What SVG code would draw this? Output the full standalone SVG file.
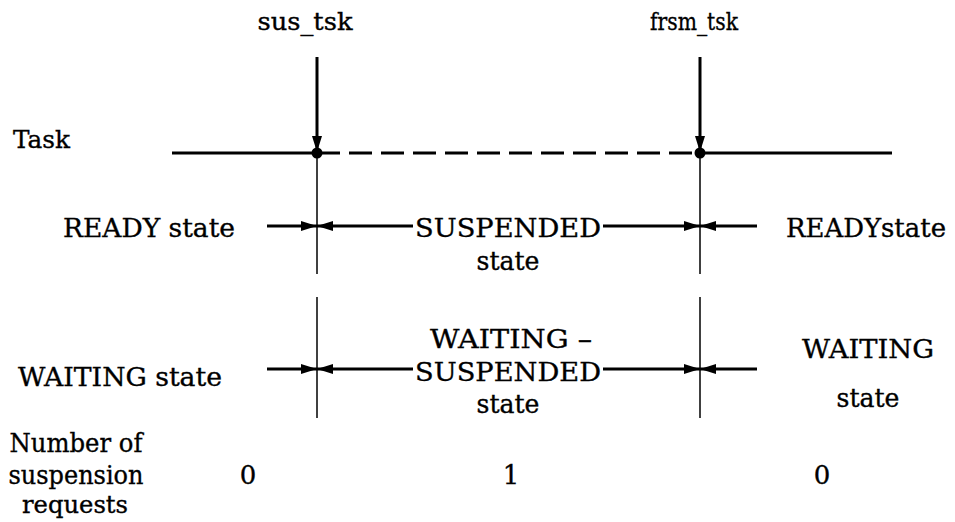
<svg xmlns="http://www.w3.org/2000/svg" width="955" height="522" viewBox="0 0 955 522">
<style>
text{font-family:"DejaVu Serif","Liberation Serif",serif;font-size:26px;fill:#000;stroke:#000;stroke-width:0.35}
.m{text-anchor:middle}
.s{font-size:24px}
.thick{stroke:#000;stroke-width:3;fill:none}
.thin{stroke:#000;stroke-width:1.5;fill:none}
</style>
<defs>
<marker id="ah" viewBox="0 0 16 10" refX="16" refY="5" markerWidth="16" markerHeight="10" markerUnits="userSpaceOnUse" orient="auto">
<path d="M0,0 L16,5 L0,10 Z" fill="#000"/>
</marker>
</defs>
<rect width="955" height="522" fill="#fff"/>
<g id="labels">
<text class="m s" x="305" y="30" textLength="95" lengthAdjust="spacingAndGlyphs">sus_tsk</text>
<text class="m s" x="694" y="30" textLength="88" lengthAdjust="spacingAndGlyphs">frsm_tsk</text>
<text class="s" x="13" y="148" textLength="57" lengthAdjust="spacingAndGlyphs">Task</text>
<text class="m" x="149" y="237" textLength="172" lengthAdjust="spacingAndGlyphs">READY state</text>
<text class="m" x="508" y="237" textLength="186" lengthAdjust="spacingAndGlyphs">SUSPENDED</text>
<text class="m" x="508" y="270" textLength="63" lengthAdjust="spacingAndGlyphs">state</text>
<text class="m" x="866" y="237" textLength="160" lengthAdjust="spacingAndGlyphs">READYstate</text>
<text class="m" x="120" y="386" textLength="204" lengthAdjust="spacingAndGlyphs">WAITING state</text>
<text class="m" x="511" y="348" textLength="162" lengthAdjust="spacingAndGlyphs">WAITING –</text>
<text class="m" x="508" y="381" textLength="186" lengthAdjust="spacingAndGlyphs">SUSPENDED</text>
<text class="m" x="508" y="413" textLength="63" lengthAdjust="spacingAndGlyphs">state</text>
<text class="m" x="868" y="358" textLength="132" lengthAdjust="spacingAndGlyphs">WAITING</text>
<text class="m" x="868" y="407" textLength="63" lengthAdjust="spacingAndGlyphs">state</text>
<text class="m" x="76" y="452" textLength="133" lengthAdjust="spacingAndGlyphs">Number of</text>
<text class="m" x="76" y="484" textLength="135" lengthAdjust="spacingAndGlyphs">suspension</text>
<text class="m s" x="75" y="513" textLength="106" lengthAdjust="spacingAndGlyphs">requests</text>
<text class="m" x="248" y="484">0</text>
<text class="m" x="511" y="484">1</text>
<text class="m" x="822" y="484">0</text>
</g>
<g id="task-line">
<line class="thick" x1="172" y1="153" x2="317" y2="153"/>
<line class="thick" x1="317" y1="153" x2="700" y2="153" stroke-dasharray="23,9"/>
<line class="thick" x1="700" y1="153" x2="892" y2="153"/>
<circle cx="317" cy="153" r="5.5" fill="#000"/>
<circle cx="700" cy="153" r="5.5" fill="#000"/>
</g>
<g id="connectors">
<line class="thick" x1="317" y1="57" x2="317" y2="152" marker-end="url(#ah)"/>
<line class="thick" x1="700" y1="57" x2="700" y2="152" marker-end="url(#ah)"/>
<line class="thin" x1="317" y1="153" x2="317" y2="274"/>
<line class="thin" x1="317" y1="297" x2="317" y2="418"/>
<line class="thin" x1="700" y1="153" x2="700" y2="274"/>
<line class="thin" x1="700" y1="297" x2="700" y2="418"/>
<line class="thick" x1="267" y1="226" x2="317" y2="226" marker-end="url(#ah)"/>
<line class="thick" x1="413" y1="226" x2="317" y2="226" marker-end="url(#ah)"/>
<line class="thick" x1="603" y1="226" x2="700" y2="226" marker-end="url(#ah)"/>
<line class="thick" x1="757" y1="226" x2="700" y2="226" marker-end="url(#ah)"/>
<line class="thick" x1="267" y1="369" x2="317" y2="369" marker-end="url(#ah)"/>
<line class="thick" x1="413" y1="369" x2="317" y2="369" marker-end="url(#ah)"/>
<line class="thick" x1="603" y1="369" x2="700" y2="369" marker-end="url(#ah)"/>
<line class="thick" x1="757" y1="369" x2="700" y2="369" marker-end="url(#ah)"/>
</g>
</svg>
